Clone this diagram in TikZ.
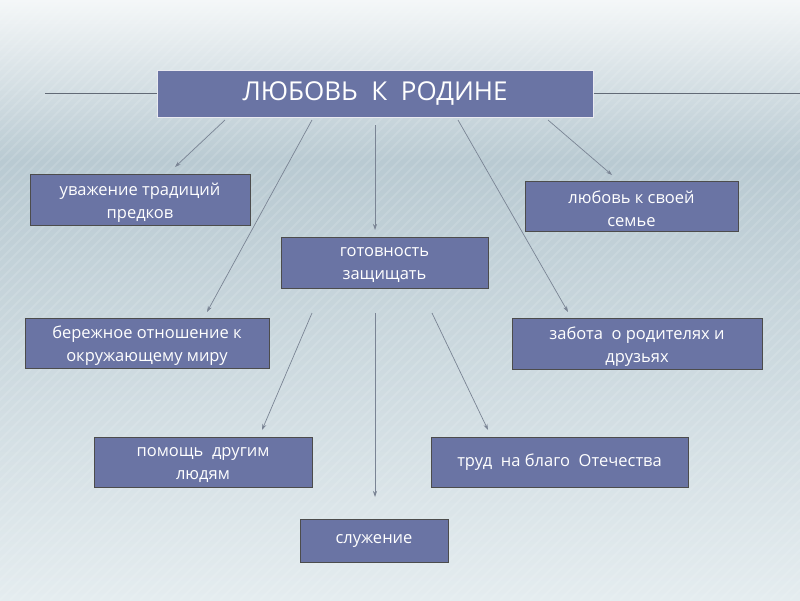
\documentclass[tikz,border=0pt]{standalone}
\usepackage{fontspec}
\setmainfont{Open Sans}
\usetikzlibrary{arrows.meta}
\definecolor{boxc}{HTML}{6A74A4}
\definecolor{bgtop}{HTML}{F4F7F8}
\definecolor{bgmid}{HTML}{B9CAD2}
\definecolor{bgbot}{HTML}{E4ECEF}
\definecolor{arr}{HTML}{7A8494}
\begin{document}
\begin{tikzpicture}[x=1pt,y=-1pt,
  bx/.style={draw=black!70,line width=0.8pt,fill=boxc,text=white,font=\fontsize{16.5}{23}\selectfont,align=center,inner sep=0pt},
  ar/.style={draw=arr,line width=0.7pt,-{Stealth[length=6pt,width=4pt]}},
  ln/.style={draw=arr!80!black,line width=1pt}]
\useasboundingbox (0,0) rectangle (800,600);
\fill[top color=bgtop,bottom color=bgmid] (0,0) rectangle (800,160);
\fill[top color=bgmid,bottom color=bgbot] (0,160) rectangle (800,600);
\foreach \i in {-600,-590,...,800} \draw[white,opacity=0.12,line width=2pt] (\i,600) -- (\i+600,0);
\newcommand{\bx}[6]{\node[bx,minimum width=#3-#1,minimum height=#4-#2] (#5) at ({(#1+#3)/2},{(#2+#4)/2}) {}; \node[text=white,font=\fontsize{16.5}{23}\selectfont,align=center,inner sep=0pt] at ([yshift=-3]#5.center) {#6};}
\node[draw=white!85!boxc,line width=1pt,fill=boxc,text=white,font=\fontsize{26}{28}\selectfont,minimum width=436,minimum height=47,inner sep=0pt] (t) at (375,93.5) {ЛЮБОВЬ\ \ К\ \ РОДИНЕ};
\bx{30}{174}{250}{225}{a}{уважение традиций\\предков}
\bx{525}{181}{738}{231}{b}{любовь к своей\\семье}
\bx{281}{237}{488}{288}{c}{готовность\\защищать}
\bx{25}{318}{269}{368}{d}{бережное отношение к\\окружающему миру}
\bx{512}{318}{762}{369}{e}{забота\ \ о родителях и\\друзьях}
\bx{94}{437}{312}{487}{f}{помощь\ \ другим\\людям}
\node[bx,minimum width=257,minimum height=50] (g) at (559.5,462) {труд\ \ на благо\ \ Отечества};
\node[bx,minimum width=148,minimum height=43] (h) at (374,540.5) {служение};
\coordinate (l0) at (45,93.5); \coordinate (r0) at (800,93.5);
\draw[ln] (l0) -- (t.west); \draw[ln] (t.east) -- (r0);
\foreach \a/\b/\c/\d in {225/120/175/167, 312/120/207/312, 375/125/375/230, 458/120/568/312, 548/120/612/175, 312/313/262/430, 375/313/375/497, 432/313/488/430}
  \draw[ar] (\a,\b) coordinate (s) -- (\c,\d) coordinate (e2);
\end{tikzpicture}
\end{document}
